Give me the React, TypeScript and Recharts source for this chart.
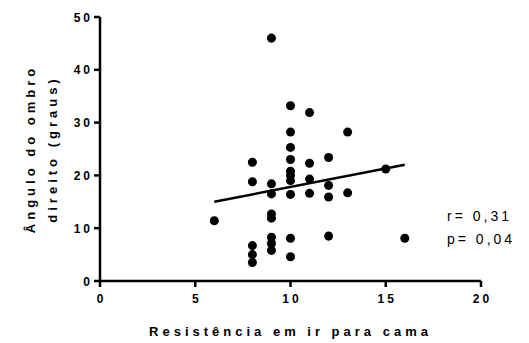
import { ScatterChart, Scatter, XAxis, YAxis, ZAxis, ReferenceLine } from "recharts"

// resistance score (x) for each subject
const resistencia = [
  6,
  8, 8, 8, 8, 8,
  9, 9, 9, 9, 9, 9, 9, 9,
  10, 10, 10, 10, 10, 10, 10, 10, 10, 10,
  11, 11, 11, 11,
  12, 12, 12, 12,
  13, 13,
  15,
  16,
]

// right shoulder angle in degrees (y)
const angulo = [
  11.4,
  22.5, 18.8, 6.7, 5.0, 3.5,
  46.0, 18.4, 16.5, 12.7, 11.9, 8.3, 7.1, 5.8,
  33.2, 28.2, 25.3, 23.0, 20.8, 20.0, 19.0, 16.4, 8.1, 4.6,
  31.9, 22.3, 19.3, 16.6,
  23.4, 18.1, 15.9, 8.5,
  28.2, 16.7,
  21.2,
  8.1,
]

// regression line end points
const fitX = [6, 16]
const fitY = [15.0, 22.0]

const xTicks = [0, 5, 10, 15, 20]
const yTicks = [0, 10, 20, 30, 40, 50]

const stats = ["r= 0,31", "p= 0,04"]

const points = resistencia.map((x, i) => ({ x, y: angulo[i] }))

const font = "'Liberation Sans', Arial, sans-serif"

function XTick(props: any) {
  const { x, y, payload } = props
  return (
    <text x={x + 1.5} y={y + 12} textAnchor="middle" fill="#000" fontSize={12} fontWeight="bold" fontFamily={font} letterSpacing={3}>
      {payload.value}
    </text>
  )
}

function YTick(props: any) {
  const { x, y, payload } = props
  return (
    <text x={x + 3} y={y + 4.5} textAnchor="end" fill="#000" fontSize={12} fontWeight="bold" fontFamily={font} letterSpacing={3}>
      {payload.value}
    </text>
  )
}

export default function App() {
  return (
    <div style={{ position: "absolute", left: 0, top: 0 }}>
      <ScatterChart width={529} height={343} margin={{ top: 17, right: 48, bottom: 0, left: 0 }}>
        <XAxis
          type="number"
          dataKey="x"
          domain={[0, 20]}
          ticks={xTicks}
          height={62}
          stroke="#000"
          tick={<XTick />}
          tickSize={6}
          tickMargin={4}
          axisLine={{ stroke: "#000", strokeWidth: 2.5 }}
          tickLine={{ stroke: "#000", strokeWidth: 2.5 }}
          label={{
            value: "Resistência em ir para cama",
            position: "insideBottom",
            offset: 7,
            style: { fill: "#000", fontSize: 13, fontWeight: "bold", fontFamily: font, letterSpacing: 4 },
          }}
        />
        <YAxis
          type="number"
          dataKey="y"
          domain={[0, 50]}
          ticks={yTicks}
          width={100}
          stroke="#000"
          tick={<YTick />}
          tickSize={6}
          tickMargin={4}
          axisLine={{ stroke: "#000", strokeWidth: 2.5 }}
          tickLine={{ stroke: "#000", strokeWidth: 2.5 }}
        />
        <ZAxis range={[60, 60]} />
        <Scatter data={points} fill="#000" isAnimationActive={false} />
        <ReferenceLine
          segment={[
            { x: fitX[0], y: fitY[0] },
            { x: fitX[1], y: fitY[1] },
          ]}
          stroke="#000"
          strokeWidth={2.5}
          ifOverflow="visible"
        />
        <text
          transform="rotate(-90)"
          textAnchor="middle"
          style={{ fill: "#000", fontSize: 13, fontWeight: "bold", fontFamily: font, letterSpacing: 4 }}
        >
          <tspan x={-149} y={35}>Ângulo do ombro</tspan>
          <tspan x={-149} y={57}>direito (graus)</tspan>
        </text>
        <text style={{ fill: "#000", fontSize: 14, fontFamily: font, letterSpacing: 3 }}>
          <tspan x={447} y={221}>{stats[0]}</tspan>
          <tspan x={447} y={244}>{stats[1]}</tspan>
        </text>
      </ScatterChart>
    </div>
  )
}
